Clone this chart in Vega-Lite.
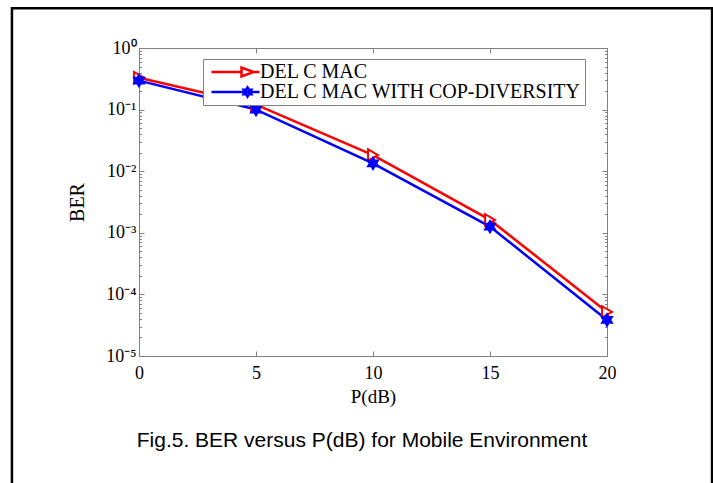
{
  "$schema": "https://vega.github.io/schema/vega-lite/v6.json",
  "width": 468,
  "height": 308,
  "autosize": {"type": "none"},
  "padding": {"left": 139, "top": 48, "right": 106, "bottom": 127},
  "background": "white",
  "config": {
    "font": "Liberation Serif",
    "view": {"stroke": "#808080", "strokeWidth": 1}
  },
  "title": {
    "text": "Fig.5. BER versus P(dB) for Mobile Environment",
    "orient": "bottom",
    "baseline": "top",
    "font": "Liberation Sans",
    "fontSize": 21,
    "fontWeight": "normal",
    "color": "black",
    "offset": -61,
    "dx": -11
  },
  "data": {
    "values": [
      {"series": "DEL C MAC", "P": 0, "BER": 0.33},
      {"series": "DEL C MAC", "P": 5, "BER": 0.12},
      {"series": "DEL C MAC", "P": 10, "BER": 0.0183},
      {"series": "DEL C MAC", "P": 15, "BER": 0.00162},
      {"series": "DEL C MAC", "P": 20, "BER": 0.000052},
      {"series": "DEL C MAC WITH COP-DIVERSITY", "P": 0, "BER": 0.295},
      {"series": "DEL C MAC WITH COP-DIVERSITY", "P": 5, "BER": 0.1},
      {"series": "DEL C MAC WITH COP-DIVERSITY", "P": 10, "BER": 0.0134},
      {"series": "DEL C MAC WITH COP-DIVERSITY", "P": 15, "BER": 0.00126},
      {"series": "DEL C MAC WITH COP-DIVERSITY", "P": 20, "BER": 0.0000385}
    ]
  },
  "layer": [
    {
      "mark": {"type": "line", "strokeWidth": 2.5},
      "encoding": {
        "x": {
          "field": "P", "type": "quantitative",
          "scale": {"domain": [0, 20], "nice": false},
          "axis": {
            "orient": "bottom", "values": [0, 5, 10, 15, 20], "format": "d",
            "grid": false, "tickSize": -5, "tickColor": "#808080", "domainColor": "#808080",
            "labelFont": "Liberation Serif", "labelFontSize": 18, "labelColor": "black",
            "labelPadding": 13, "labelFlush": false,
            "title": "P(dB)", "titleFont": "Liberation Serif", "titleFontSize": 19,
            "titleFontWeight": "normal", "titleColor": "black", "titlePadding": 5
          }
        },
        "y": {
          "field": "BER", "type": "quantitative",
          "scale": {"type": "log", "domain": [0.00001, 1], "nice": false},
          "axis": {
            "orient": "left", "grid": false,
            "values": [0.00001,0.00002,0.00003,0.00004,0.00005,0.00006,0.00007,0.00008,0.00009,
                       0.0001,0.0002,0.0003,0.0004,0.0005,0.0006,0.0007,0.0008,0.0009,
                       0.001,0.002,0.003,0.004,0.005,0.006,0.007,0.008,0.009,
                       0.01,0.02,0.03,0.04,0.05,0.06,0.07,0.08,0.09,
                       0.1,0.2,0.3,0.4,0.5,0.6,0.7,0.8,0.9,1],
            "tickSize": {"condition": {"test": "abs(log(datum.value)/LN10 - round(log(datum.value)/LN10)) < 0.01", "value": -5}, "value": -2.5},
            "tickColor": "#808080", "domainColor": "#808080",
            "labelExpr": "abs(log(datum.value)/LN10 - round(log(datum.value)/LN10)) < 0.01 ? '10' + ['⁰','⁻¹','⁻²','⁻³','⁻⁴','⁻⁵'][-round(log(datum.value)/LN10)] : ''",
            "labelFont": "Liberation Serif", "labelFontSize": 18, "labelColor": "black",
            "labelPadding": 8, "labelFlush": false, "labelOverlap": false,
            "title": "BER", "titleFont": "Liberation Serif", "titleFontSize": 20,
            "titleFontWeight": "normal", "titleColor": "black", "titlePadding": 18
          }
        },
        "color": {
          "field": "series", "type": "nominal",
          "scale": {"domain": ["DEL C MAC", "DEL C MAC WITH COP-DIVERSITY"], "range": ["#ff0000", "#0000ff"]},
          "legend": {
            "title": null, "orient": "none", "legendX": 64, "legendY": 11,
            "direction": "vertical", "fillColor": "white", "strokeColor": "#808080",
            "padding": 3, "rowPadding": 0,
            "symbolSize": 144, "symbolStrokeWidth": 2.5, "symbolOffset": 19.5, "symbolOpacity": 1,
            "labelOffset": 14.5, "labelFont": "Liberation Serif", "labelFontSize": 20,
            "labelColor": "black", "labelLimit": 0
          }
        }
      }
    },
    {
      "transform": [{"filter": "datum.series === 'DEL C MAC'"}],
      "mark": {"type": "point", "shape": "triangle-right", "size": 130, "strokeWidth": 2, "opacity": 1, "fill": "white", "stroke": "#ff0000", "filled": true},
      "encoding": {
        "x": {"field": "P", "type": "quantitative", "scale": {"domain": [0, 20], "nice": false}, "axis": null},
        "y": {"field": "BER", "type": "quantitative", "scale": {"type": "log", "domain": [0.00001, 1], "nice": false}, "axis": null}
      }
    },
    {
      "transform": [{"filter": "datum.series === 'DEL C MAC WITH COP-DIVERSITY'"}],
      "mark": {"type": "point", "shape": "M0,-1L0.289,-0.5L0.866,-0.5L0.577,0L0.866,0.5L0.289,0.5L0,1L-0.289,0.5L-0.866,0.5L-0.577,0L-0.866,-0.5L-0.289,-0.5Z", "size": 130, "strokeWidth": 2, "opacity": 1, "fill": "#0000ff", "stroke": "#0000ff", "filled": true},
      "encoding": {
        "x": {"field": "P", "type": "quantitative", "scale": {"domain": [0, 20], "nice": false}, "axis": null},
        "y": {"field": "BER", "type": "quantitative", "scale": {"type": "log", "domain": [0.00001, 1], "nice": false}, "axis": null}
      }
    },
    {
      "transform": [{"filter": "false"}],
      "mark": {"type": "point", "strokeWidth": 2.5, "opacity": 1},
      "encoding": {
        "x": {"field": "P", "type": "quantitative", "scale": {"domain": [0, 20], "nice": false}, "axis": null},
        "y": {"field": "BER", "type": "quantitative", "scale": {"type": "log", "domain": [0.00001, 1], "nice": false}, "axis": null},
        "color": {
          "field": "series", "type": "nominal",
          "scale": {"domain": ["DEL C MAC", "DEL C MAC WITH COP-DIVERSITY"], "range": ["#ff0000", "#0000ff"]},
          "legend": {
            "title": null, "orient": "none", "legendX": 64, "legendY": 11,
            "direction": "vertical", "fillColor": "white", "strokeColor": "#808080",
            "padding": 3, "rowPadding": 0,
            "symbolSize": 144, "symbolStrokeWidth": 2.5, "symbolOffset": 19.5, "symbolOpacity": 1,
            "labelOffset": 14.5, "labelFont": "Liberation Serif", "labelFontSize": 20,
            "labelColor": "black", "labelLimit": 0
          }
        },
        "shape": {
          "field": "series", "type": "nominal",
          "scale": {"domain": ["DEL C MAC", "DEL C MAC WITH COP-DIVERSITY"], "range": ["M-4,0L1,0M3,0L4,0M3,0L1,-0.75L1,0.75Z", "M-4,0L4,0M2,-0.75L2.217,-0.375L2.65,-0.375L2.433,0L2.65,0.375L2.217,0.375L2,0.75L1.783,0.375L1.35,0.375L1.567,0L1.35,-0.375L1.783,-0.375Z"]},
          "legend": {
            "title": null, "orient": "none", "legendX": 64, "legendY": 11,
            "direction": "vertical", "fillColor": "white", "strokeColor": "#808080",
            "padding": 3, "rowPadding": 0,
            "symbolSize": 144, "symbolStrokeWidth": 2.5, "symbolOffset": 19.5, "symbolOpacity": 1,
            "labelOffset": 14.5, "labelFont": "Liberation Serif", "labelFontSize": 20,
            "labelColor": "black", "labelLimit": 0
          }
        }
      }
    },
    {
      "data": {"values": [{}]},
      "mark": {"type": "rect", "fill": "transparent", "stroke": "black", "strokeWidth": 2.5},
      "encoding": {
        "x": {
          "datum": -5.43, "type": "quantitative",
          "scale": {"domain": [0, 20], "nice": false},
          "axis": {
            "orient": "top", "values": [0, 5, 10, 15, 20], "labels": false, "domain": false,
            "grid": false, "tickSize": -5, "tickColor": "#808080", "title": null
          }
        },
        "x2": {"datum": 24.49},
        "y": {
          "datum": 4.41, "type": "quantitative",
          "scale": {"type": "log", "domain": [0.00001, 1], "nice": false},
          "axis": {
            "orient": "right", "labels": false, "domain": false, "grid": false, "title": null,
            "values": [0.00001,0.00002,0.00003,0.00004,0.00005,0.00006,0.00007,0.00008,0.00009,
                       0.0001,0.0002,0.0003,0.0004,0.0005,0.0006,0.0007,0.0008,0.0009,
                       0.001,0.002,0.003,0.004,0.005,0.006,0.007,0.008,0.009,
                       0.01,0.02,0.03,0.04,0.05,0.06,0.07,0.08,0.09,
                       0.1,0.2,0.3,0.4,0.5,0.6,0.7,0.8,0.9,1],
            "tickSize": {"condition": {"test": "abs(log(datum.value)/LN10 - round(log(datum.value)/LN10)) < 0.01", "value": -5}, "value": -2.5},
            "tickColor": "#808080"
          }
        },
        "y2": {"datum": 0.0000000668}
      }
    }
  ],
  "resolve": {"axis": {"x": "independent", "y": "independent"}}
}
